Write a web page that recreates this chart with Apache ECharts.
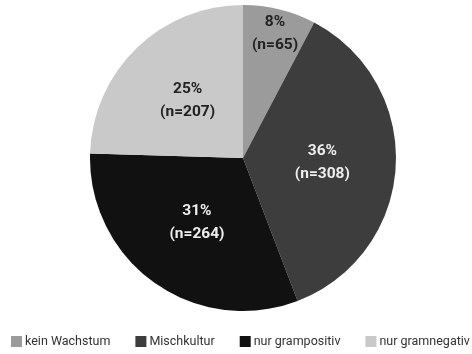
<!DOCTYPE html>
<html><head><meta charset="utf-8">
<script src="https://cdn.jsdelivr.net/npm/echarts@6/dist/echarts.min.js"></script>
<style>html,body{margin:0;padding:0;background:#fff}#c{width:472px;height:354px}</style>
</head><body><div id="c"></div>
<script>
const categories = ['kein Wachstum', 'Mischkultur', 'nur grampositiv', 'nur gramnegativ'];
const counts = [65, 308, 264, 207];
const percents = [8, 36, 31, 25];
const colors = ['#9b9b9b', '#3d3d3d', '#111111', '#c9c9c9'];
const labelColors = ['#222', '#eee', '#eee', '#222'];

const chart = echarts.init(document.getElementById('c'));
chart.setOption({
  animation: false,
  legend: {
    bottom: 6, left: 11, right: 0, padding: 0, itemWidth: 11, itemHeight: 11, itemGap: 25,
    icon: 'rect',
    textStyle: { fontFamily: 'Roboto', fontSize: 12.5, color: '#333', padding: [0,0,0,-2] },
    data: categories
  },
  series: [{
    type: 'pie',
    center: [243, 158],
    radius: [0, 153],
    startAngle: 90,
    clockwise: true,
    label: {
      position: 'inside',
      fontFamily: 'Roboto',
      fontWeight: 'bold',
      fontSize: 15.5,
      lineHeight: 23,
      formatter: p => percents[p.dataIndex] + '%\n(n=' + counts[p.dataIndex] + ')'
    },
    labelLine: { show: false },
    emphasis: { disabled: true },
    data: categories.map((n, i) => ({
      name: n, value: counts[i],
      itemStyle: { color: colors[i] },
      label: Object.assign({ color: labelColors[i] }, i === 0 ? { offset: [13, -47] } : {})
    }))
  }]
});
</script></body></html>
